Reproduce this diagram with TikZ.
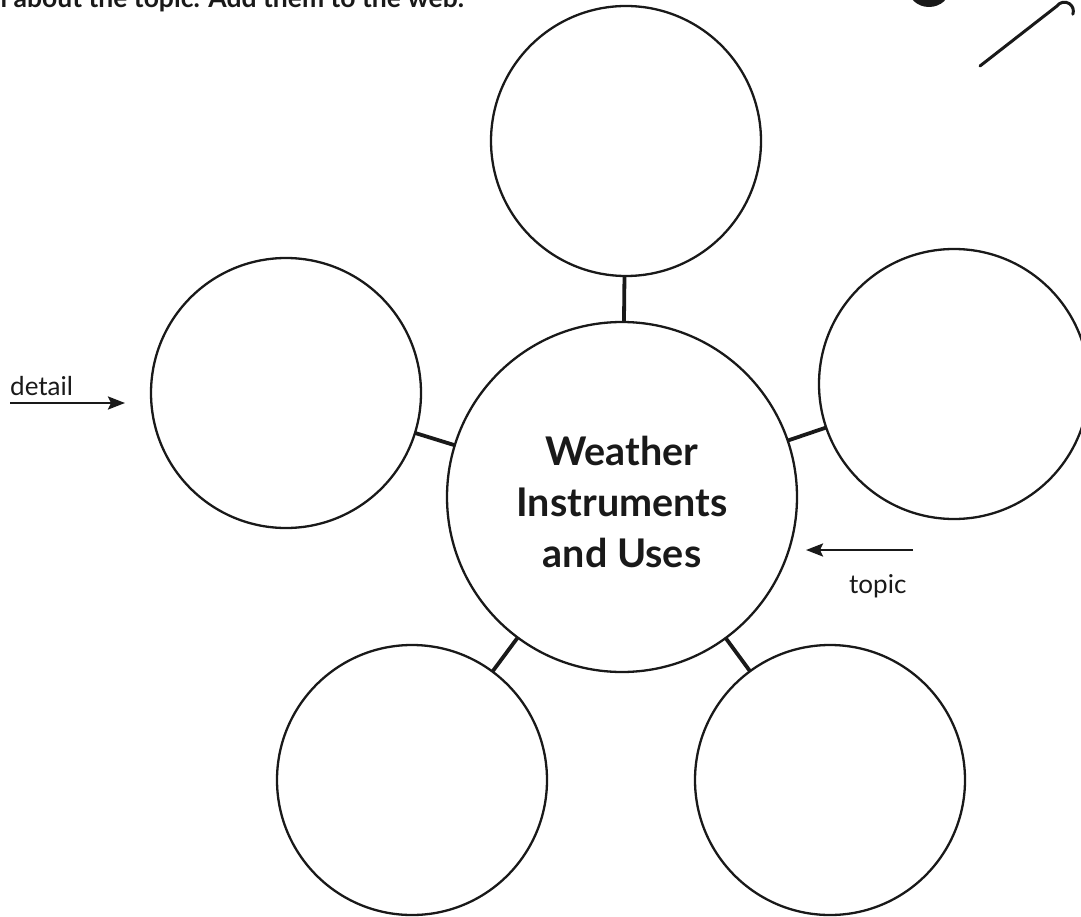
\documentclass[tikz,border=0pt]{standalone}
\usepackage{fontspec}
\setmainfont{Lato}
\usetikzlibrary{arrows.meta}
\tikzset{
  bubble/.style={circle, draw=black!90, line width=2.3pt, minimum size=270pt, inner sep=0pt, outer sep=0pt},
  hub/.style={circle, draw=black!90, line width=2.3pt, minimum size=350pt, inner sep=0pt, outer sep=0pt},
  hubtext/.style={align=center, inner sep=0pt, font=\fontsize{39.5}{51}\selectfont\bfseries, text=black!90},
  spoke/.style={draw=black!90, line width=3.8pt},
  pointer/.style={draw=black!90, line width=2.6pt, -{Stealth[length=17pt,width=13pt,inset=3pt]}},
  tag/.style={font=\fontsize{26}{30}\selectfont, text=black!90, inner sep=0pt},
}
\begin{document}
\begin{tikzpicture}[x=1pt,y=-1pt]
  \useasboundingbox (0,0) rectangle (1081,917);
  \clip (0,0) rectangle (1081,917);

  % instruction line, running off the top edge
  \node[anchor=base west, inner sep=0pt, font=\fontsize{26.5}{30}\selectfont\bfseries, text=black!90]
    (instr) at (-8,8) {n about the topic. Add them to the web.};

  % corner ornament
  \fill[black!90] (929,-12) ellipse [x radius=21, y radius=19];
  \draw[black!90, line width=3pt, line cap=round] (980,66) -- (1057,6)
    arc [start angle=215, end angle=380, radius=9];

  % topic circle and detail circles
  \node[hub] (hub) at (622,497) {};
  \node[hubtext] (title) at ([yshift=-5pt]hub.center) {Weather\\Instruments\\and Uses};
  \node[bubble] (top)   at (626,141) {};
  \node[bubble] (left)  at (286,393) {};
  \node[bubble] (right) at (954,384) {};
  \node[bubble] (bl)    at (412,780) {};
  \node[bubble] (br)    at (830,780) {};

  % spokes
  \draw[spoke] (top) -- (hub);
  \draw[spoke] (left) -- (hub);
  \draw[spoke] (right) -- (hub);
  \draw[spoke] (bl) -- (hub);
  \draw[spoke] (br) -- (hub);

  % labels with pointers
  \coordinate (dstart) at (10,403);
  \coordinate (dend) at (125,403);
  \draw[pointer] (dstart) -- (dend);
  \node[tag, anchor=base west] (detail) at (10,395) {detail};

  \coordinate (tstart) at (913,550);
  \coordinate (tend) at (806,550);
  \draw[pointer] (tstart) -- (tend);
  \node[tag, anchor=base west] (topic) at (849,593) {topic};
\end{tikzpicture}
\end{document}
